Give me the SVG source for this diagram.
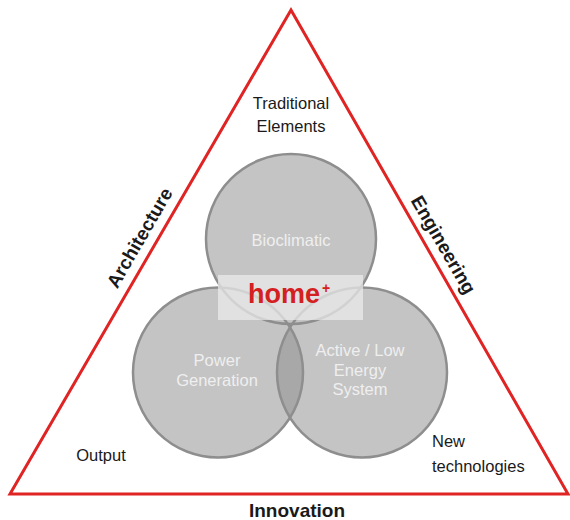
<svg xmlns="http://www.w3.org/2000/svg" width="570" height="520" viewBox="0 0 570 520">
<style>
.lbl{font-family:"Liberation Sans",Arial,sans-serif;fill:#1a1a1a;font-size:16.5px;text-anchor:middle}
.side{font-family:"Liberation Sans",Arial,sans-serif;fill:#1a1a1a;font-size:19px;text-anchor:middle;font-weight:bold}
.inner{font-family:"Liberation Sans",Arial,sans-serif;fill:#efefef;font-size:16.5px;text-anchor:middle}
.cfill{fill:#c4c4c4}
.cline{fill:none;stroke:#8e8e8e;stroke-width:2.5}
</style>
<rect width="570" height="520" fill="#ffffff"/>
<g id="triangle">
<polygon points="291,10 10,494 568,494" fill="none" stroke="#e02424" stroke-width="3" stroke-linejoin="miter"/>
</g>
<g id="circles">
<circle class="cfill" cx="291" cy="239" r="85"/>
<circle class="cfill" cx="218" cy="372.5" r="85"/>
<circle class="cfill" cx="362" cy="372.5" r="85"/>
<path d="M290,327 A85,85 0 0,1 290,418 A85,85 0 0,1 290,327 Z" fill="#a8a8a8"/>
<circle class="cline" cx="291" cy="239" r="85"/>
<circle class="cline" cx="218" cy="372.5" r="85"/>
<circle class="cline" cx="362" cy="372.5" r="85"/>
</g>
<g id="bioclimatic"><text class="inner" x="291" y="246">Bioclimatic</text></g>
<g id="power"><text class="inner" x="217" y="366">Power</text><text class="inner" x="217" y="386">Generation</text></g>
<g id="active"><text class="inner" x="360" y="356">Active / Low</text><text class="inner" x="360" y="376">Energy</text><text class="inner" x="360" y="395">System</text></g>
<g id="home">
<rect x="218" y="275" width="145" height="45" fill="#ececec" fill-opacity="0.72"/>
<text x="248" y="303" font-family="'Liberation Sans',Arial,sans-serif" font-weight="bold" font-size="27" fill="#d42020">home</text>
<text x="322" y="293" font-family="'Liberation Sans',Arial,sans-serif" font-weight="bold" font-size="14" fill="#d42020">+</text>
</g>
<g id="traditional"><text class="lbl" x="291" y="109">Traditional</text><text class="lbl" x="291" y="132">Elements</text></g>
<g id="output"><text class="lbl" x="101" y="461">Output</text></g>
<g id="newtech"><text class="lbl" x="432" y="447" style="text-anchor:start">New</text><text class="lbl" x="432" y="472" style="text-anchor:start">technologies</text></g>
<g id="architecture"><text class="side" x="0" y="0" transform="translate(140,238) rotate(-60)" dy="6">Architecture</text></g>
<g id="engineering"><text class="side" x="0" y="0" transform="translate(443,245) rotate(60)" dy="6">Engineering</text></g>
<g id="innovation"><text class="side" x="297" y="517">Innovation</text></g>
<g id="connectors"></g>
</svg>
